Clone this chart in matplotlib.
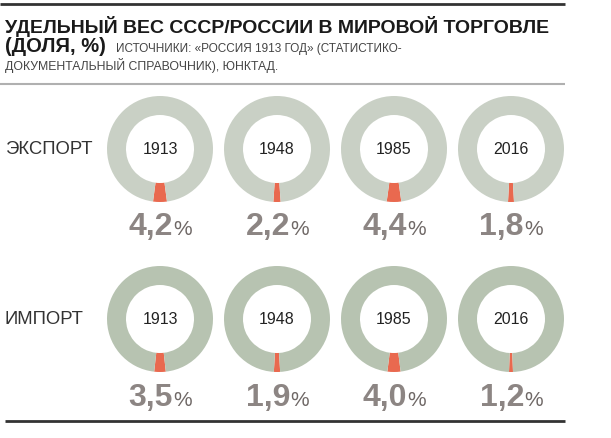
import matplotlib
matplotlib.use("Agg")
import matplotlib.pyplot as plt

plt.rcParams['font.family'] = ['Liberation Sans', 'DejaVu Sans']

years = ["1913", "1948", "1985", "2016"]
export_share = [4.2, 2.2, 4.4, 1.8]
import_share = [3.5, 1.9, 4.0, 1.2]
export_labels = ["4,2", "2,2", "4,4", "1,8"]
import_labels = ["3,5", "1,9", "4,0", "1,2"]
row_names = ["ЭКСПОРТ", "ИМПОРТ"]

W, H = 611, 439
RED = "#e9694f"
RING = ["#c9d0c5", "#b7c3b1"]

fig = plt.figure(figsize=(W / 100, H / 100), dpi=100)
ax = fig.add_axes([0, 0, 1, 1])


def py(y):
    # pixel row from top -> data y
    return H - y


col_x = [160, 277, 394, 511]
row_y = [150, 320]
pct_base = [235, 406]
r_out, r_w = 53, 19

rows = [(export_share, export_labels), (import_share, import_labels)]
for ri, (shares, labels) in enumerate(rows):
    cy = py(row_y[ri])
    ax.text(5, cy, row_names[ri], fontsize=13.3, color="#333333",
            ha="left", va="center")
    for ci, share in enumerate(shares):
        cx = col_x[ci]
        start = 270 - share / 100 * 360 / 2
        ax.pie([share, 100 - share], colors=[RED, RING[ri]], center=(cx, cy),
               radius=r_out, startangle=start, counterclock=True,
               wedgeprops=dict(width=r_w, linewidth=0), frame=True)
        ax.text(cx, cy, years[ci], fontsize=11.5, color="#222222",
                ha="center", va="center")

fig.canvas.draw()
renderer = fig.canvas.get_renderer()
for ri, (shares, labels) in enumerate(rows):
    for ci, lab in enumerate(labels):
        cx = col_x[ci]
        t1 = ax.text(0, py(pct_base[ri]), lab, fontsize=23, fontweight="bold",
                     color="#8c8583", ha="left", va="baseline")
        t2 = ax.text(0, py(pct_base[ri]), "%", fontsize=15, color="#6f6866",
                     ha="left", va="baseline")
        w1 = t1.get_window_extent(renderer).width
        w2 = t2.get_window_extent(renderer).width
        left = cx - (w1 + w2) / 2
        t1.set_x(left)
        t2.set_x(left + w1 + 0.5)

# header
ax.plot([0, 565], [py(5), py(5)], color="#333333", lw=2, solid_capstyle="butt")
ax.text(5, py(33), "УДЕЛЬНЫЙ ВЕС СССР/РОССИИ В МИРОВОЙ ТОРГОВЛЕ",
        fontsize=14, fontweight="bold", color="#1a1a1a", va="baseline")
ax.text(5, py(52), "(ДОЛЯ, %)", fontsize=14.5, fontweight="bold",
        color="#1a1a1a", va="baseline")
ax.text(116, py(52), "ИСТОЧНИКИ: «РОССИЯ 1913 ГОД» (СТАТИСТИКО-",
        fontsize=8.5, color="#444444", va="baseline")
ax.text(5, py(70), "ДОКУМЕНТАЛЬНЫЙ СПРАВОЧНИК), ЮНКТАД.",
        fontsize=8.8, color="#444444", va="baseline")
ax.plot([0, 565], [py(85), py(85)], color="#b0b0b0", lw=1.5, solid_capstyle="butt")
ax.plot([5, 565], [py(422), py(422)], color="#333333", lw=2, solid_capstyle="butt")

ax.set_xlim(0, W)
ax.set_ylim(0, H)
ax.set_aspect("auto")
ax.axis("off")

fig.savefig("out.png", dpi=100)
